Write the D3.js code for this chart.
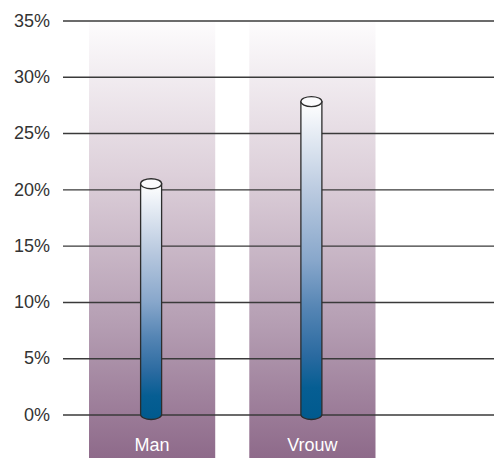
<!DOCTYPE html>
<html>
<head>
<meta charset="utf-8">
<script src="https://cdn.jsdelivr.net/npm/d3@7/dist/d3.min.js"></script>
<style>
  html, body { margin: 0; padding: 0; background: #fff; }
  svg { display: block; }
  text { font-family: "Liberation Sans", Arial, Helvetica, sans-serif; }
</style>
</head>
<body>
<div id="chart"></div>
<script>
// Share of respondents by gender
const categories = ["Man", "Vrouw"];
const values = [20.5, 27.8];
const tickValues = [0, 5, 10, 15, 20, 25, 30, 35];

const W = 494, H = 458;
const svg = d3.select("#chart").append("svg")
  .attr("width", W).attr("height", H);

const y = d3.scaleLinear().domain([0, 35]).range([414.5, 20.5]);
const x = d3.scaleBand().domain(categories).range([89, 375.5])
  .paddingInner(0.2125).paddingOuter(0);

const defs = svg.append("defs");

// Column background: pale at the top, mauve at the bottom
const bg = defs.append("linearGradient").attr("id", "colBg")
  .attr("x1", 0).attr("y1", 0).attr("x2", 0).attr("y2", 1);
bg.append("stop").attr("offset", 0).attr("stop-color", "#fdfcfd");
bg.append("stop").attr("offset", 0.35).attr("stop-color", "#ddd0da");
bg.append("stop").attr("offset", 0.7).attr("stop-color", "#b49db2");
bg.append("stop").attr("offset", 1).attr("stop-color", "#8e6a8a");

// Tube fill: white at the cap, deep blue at the base
const tube = defs.append("linearGradient").attr("id", "tubeFill")
  .attr("x1", 0).attr("y1", 0).attr("x2", 0).attr("y2", 1);
[[0, "#ffffff"], [0.1, "#e6ecf4"], [0.3, "#b6c7de"], [0.5, "#88a7cb"],
 [0.65, "#5585b4"], [0.8, "#2a6aa0"], [0.9, "#065e93"], [1, "#005a8e"]]
  .forEach(([o, c]) => tube.append("stop").attr("offset", o).attr("stop-color", c));

// Background columns
svg.append("g").selectAll("rect")
  .data(categories)
  .join("rect")
  .attr("x", d => x(d))
  .attr("y", y(35) + 1)
  .attr("width", x.bandwidth())
  .attr("height", H - y(35) - 1)
  .attr("fill", "url(#colBg)");

// Gridlines and tick labels
const axis = d3.axisLeft(y)
  .tickValues(tickValues)
  .tickSize(-(W - 63))
  .tickPadding(13)
  .tickFormat(d => d + "%");
const gAxis = svg.append("g")
  .attr("transform", "translate(63,0)")
  .call(axis);
gAxis.select(".domain").remove();
gAxis.selectAll(".tick line")
  .attr("stroke", "#3a3a3a").attr("stroke-width", 1.4);
gAxis.selectAll(".tick text")
  .attr("fill", "#333").attr("font-size", 18);

// Cylinders
const rx = 10.5, ry = 5;
const g = svg.append("g");
categories.forEach((c, i) => {
  const cx = x(c) + x.bandwidth() / 2 - 1;
  const top = y(values[i]);
  const base = y(0);
  g.append("path")
    .attr("d", `M${cx - rx},${top} L${cx - rx},${base} A${rx},${ry} 0 0 0 ${cx + rx},${base} L${cx + rx},${top} Z`)
    .attr("fill", "url(#tubeFill)")
    .attr("stroke", "#2d2d2d").attr("stroke-width", 1.3);
  g.append("ellipse")
    .attr("cx", cx).attr("cy", top)
    .attr("rx", rx).attr("ry", ry)
    .attr("fill", "#fbfbfd")
    .attr("stroke", "#2d2d2d").attr("stroke-width", 1.3);
});

// Category labels
svg.append("g").selectAll("text")
  .data(categories)
  .join("text")
  .attr("x", d => x(d) + x.bandwidth() / 2)
  .attr("y", 451)
  .attr("text-anchor", "middle")
  .attr("fill", "#fff")
  .attr("font-size", 18)
  .text(d => d);
</script>
</body>
</html>
